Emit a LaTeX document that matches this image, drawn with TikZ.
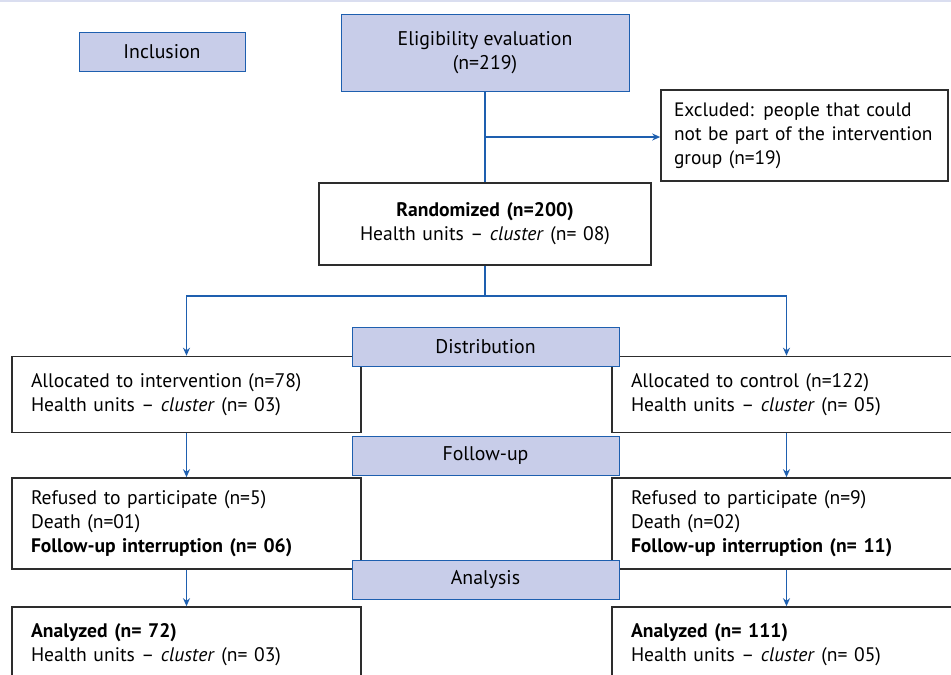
\documentclass[tikz,border=0pt]{standalone}
\usepackage{fontspec}
\setmainfont{PT Sans}
\usetikzlibrary{arrows.meta,positioning,calc}

\definecolor{lavfill}{RGB}{200,205,233}
\definecolor{figblue}{RGB}{30,95,175}
\definecolor{boxgray}{RGB}{45,45,45}
\definecolor{pageline}{RGB}{218,222,240}

\tikzset{
  phase/.style={fill=lavfill, draw=figblue, line width=0.8pt, inner sep=0pt, minimum height=39pt, font=\fontsize{19.8}{24}\selectfont},
  flowbox/.style={draw=boxgray, line width=1.6pt, fill=white, align=left, text width=311pt, inner xsep=19pt, inner ysep=0pt, font=\fontsize{19.6}{24}\selectfont},
  flow/.style={draw=figblue, line width=1.4pt},
  arrow/.style={flow, -{Stealth[length=8pt,width=7pt]}},
}

\begin{document}
\begin{tikzpicture}[x=1pt, y=-1pt]
  \clip (0,0) rectangle (951,675);
  \draw[pageline, line width=2.5pt] (0,1) -- (951,1);

  % inclusion
  \node[phase, minimum width=166pt] (incl) at (162,51.5) {Inclusion};
  \node[phase, minimum width=288pt, minimum height=77pt, align=center] (elig) at (485,52.5) {Eligibility evaluation\\(n=219)};
  \node[flowbox, text width=261pt, inner xsep=13pt, minimum height=91pt, font=\fontsize{19.4}{24}\selectfont] (excl) at (804.5,135.5) {Excluded: people that could\\not be part of the intervention\\group (n=19)};
  \node[flowbox, align=center, text width=294pt, minimum height=82pt] (rand) at (485,224) {\textbf{Randomized (n=200)}\\Health units -- \textit{cluster} (n= 08)};

  % two arms
  \node[flowbox, minimum height=76pt] (alloci) at (186.5,394.5) {Allocated to intervention (n=78)\\Health units -- \textit{cluster} (n= 03)};
  \node[flowbox, minimum height=76pt] (allocc) at (786.5,394.5) {Allocated to control (n=122)\\Health units -- \textit{cluster} (n= 05)};
  \node[flowbox, minimum height=91pt] (refi) at (186.5,523.5) {Refused to participate (n=5)\\Death (n=01)\\\textbf{Follow-up interruption (n= 06)}};
  \node[flowbox, minimum height=91pt] (refc) at (786.5,523.5) {Refused to participate (n=9)\\Death (n=02)\\\textbf{Follow-up interruption (n= 11)}};
  \node[flowbox, minimum height=76pt] (anai) at (186.5,645) {\textbf{Analyzed (n= 72)}\\Health units -- \textit{cluster} (n= 03)};
  \node[flowbox, minimum height=76pt] (anac) at (786.5,645) {\textbf{Analyzed (n= 111)}\\Health units -- \textit{cluster} (n= 05)};

  % stages
  \node[phase, minimum width=267pt] (distr) at (485.5,346.5) {Distribution};
  \node[phase, minimum width=267pt] (follow) at (485.5,455.5) {Follow-up};
  \node[phase, minimum width=267pt] (analy) at (485.5,579.5) {Analysis};

  \coordinate (branch) at (485,137);
  \coordinate (split) at (485,296);
  \draw[flow] (elig) -- (rand);
  \draw[arrow] (branch) -- (branch -| excl.west);
  \draw[flow] (rand) -- (split);
  \draw[arrow] (split) -| (alloci.north);
  \draw[arrow] (split) -| (allocc.north);
  \draw[arrow] (alloci) -- (refi);
  \draw[arrow] (allocc) -- (refc);
  \draw[arrow] (refi) -- (anai);
  \draw[arrow] (refc) -- (anac);
\end{tikzpicture}
\end{document}
